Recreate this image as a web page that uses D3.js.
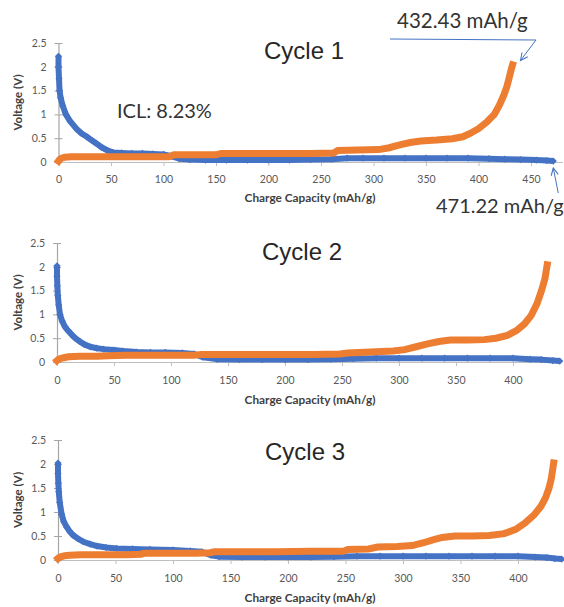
<!DOCTYPE html>
<html><head><meta charset="utf-8">
<script src="https://cdnjs.cloudflare.com/ajax/libs/d3/7.8.5/d3.min.js"></script>
<style>
html,body{margin:0;padding:0;background:#fff;}
svg{display:block;}
</style></head>
<body>
<script>
// ---------------- DATA ----------------
const cycleTitles = ["Cycle 1", "Cycle 2", "Cycle 3"];
const xAxisTitle = "Charge Capacity (mAh/g)";
const yAxisTitle = "Voltage (V)";
const yTicks = [0, 0.5, 1, 1.5, 2, 2.5];
const xTicksCycle1 = [0, 50, 100, 150, 200, 250, 300, 350, 400, 450];
const xTicksCycle23 = [0, 50, 100, 150, 200, 250, 300, 350, 400];
const xAxisMax = [480, 442, 440];
const yAxisMax = 2.5;
const iclLabel = "ICL: 8.23%";
const chargeEndLabel = "432.43 mAh/g";
const dischargeEndLabel = "471.22 mAh/g";
const chargeEndCapacity = 432.43;
const dischargeEndCapacity = 471.22;

// [capacity mAh/g, voltage V]
const cycle1Discharge = [[0,2.22],[0,2.0],[0.5,1.75],[1,1.5],[2,1.35],[4,1.18],[7,1.0],[11,0.86],[17,0.7],[22,0.6],[27,0.53],[32,0.45],[36,0.39],[41,0.31],[46,0.25],[52,0.2],[60,0.19],[70,0.18],[80,0.18],[90,0.17],[100,0.16],[108,0.12],[115,0.07],[125,0.05],[140,0.04],[160,0.04],[180,0.04],[200,0.04],[220,0.04],[240,0.05],[260,0.06],[275,0.08],[290,0.08],[310,0.08],[330,0.08],[350,0.08],[370,0.08],[390,0.08],[410,0.07],[425,0.06],[440,0.05],[455,0.04],[465,0.03],[471.22,0.02]];
const cycle1Charge = [[0,0.02],[1,0.05],[3,0.08],[6,0.1],[12,0.11],[20,0.11],[50,0.11],[80,0.11],[105,0.11],[110,0.15],[130,0.15],[150,0.15],[155,0.18],[180,0.18],[210,0.18],[240,0.18],[262,0.19],[266,0.24],[285,0.25],[305,0.26],[315,0.3],[325,0.36],[335,0.41],[345,0.44],[360,0.46],[375,0.49],[385,0.53],[392,0.6],[400,0.7],[408,0.84],[415,1.0],[420,1.2],[424,1.4],[427,1.58],[429,1.75],[431,1.93],[432.43,2.04]];

const cycle2Discharge = [[0,2.02],[0,1.8],[0.3,1.6],[0.7,1.4],[1.5,1.2],[2.6,1.0],[4.5,0.86],[7,0.74],[10,0.65],[13,0.57],[16,0.5],[20,0.43],[24,0.37],[29,0.32],[35,0.29],[41,0.27],[50,0.25],[58,0.23],[70,0.21],[82,0.2],[95,0.2],[110,0.19],[120,0.17],[128,0.1],[140,0.06],[160,0.05],[180,0.05],[200,0.05],[220,0.05],[240,0.06],[260,0.07],[280,0.08],[300,0.08],[320,0.08],[340,0.08],[360,0.08],[380,0.08],[400,0.08],[415,0.06],[425,0.05],[435,0.03],[441,0.02]];
const cycle2Charge = [[0,0.03],[1,0.05],[3,0.07],[6,0.09],[10,0.11],[20,0.12],[35,0.12],[45,0.13],[60,0.14],[80,0.14],[100,0.14],[120,0.14],[127,0.16],[150,0.16],[175,0.16],[200,0.16],[225,0.16],[248,0.17],[255,0.19],[275,0.21],[295,0.23],[305,0.26],[315,0.32],[325,0.38],[335,0.43],[345,0.46],[360,0.46],[375,0.47],[385,0.5],[395,0.56],[403,0.66],[410,0.8],[416,0.98],[421,1.22],[425,1.5],[428,1.75],[430,2.04]];

const cycle3Discharge = [[0,2.02],[0,1.8],[0.3,1.6],[0.7,1.42],[1.5,1.2],[3.2,0.95],[5,0.8],[7.5,0.69],[10,0.6],[13,0.52],[17,0.45],[22,0.38],[28,0.33],[34,0.29],[42,0.26],[51,0.24],[65,0.23],[80,0.22],[100,0.21],[115,0.19],[125,0.17],[133,0.1],[140,0.07],[160,0.06],[180,0.06],[200,0.06],[220,0.06],[240,0.07],[260,0.08],[280,0.08],[300,0.08],[320,0.08],[340,0.08],[360,0.08],[380,0.08],[400,0.08],[415,0.06],[425,0.05],[432,0.03],[438,0.02]];
const cycle3Charge = [[0,0.03],[1,0.05],[3,0.07],[6,0.09],[10,0.1],[20,0.11],[40,0.11],[60,0.11],[72,0.12],[75,0.14],[100,0.14],[120,0.14],[132,0.15],[136,0.17],[160,0.17],[190,0.17],[220,0.18],[248,0.18],[252,0.22],[270,0.23],[278,0.27],[295,0.28],[308,0.3],[318,0.36],[326,0.42],[334,0.47],[345,0.5],[360,0.5],[375,0.51],[388,0.55],[398,0.64],[406,0.77],[414,0.94],[420,1.12],[424,1.3],[427,1.5],[429,1.7],[431,2.02]];

// ---------------- LAYOUT ----------------
const W = 564, H = 607;
const BLUE = "#4472C4", ORANGE = "#ED7D31";
const panels = [
  {title: cycleTitles[0], dis: cycle1Discharge, chg: cycle1Charge, xMax: xAxisMax[0], xTicks: xTicksCycle1,
   left: 58.5, pxPerUnit: 1.05, top: 43, bottom: 162, titleX: 304, titleY: 59, tickY: 179, axTitleY: 202},
  {title: cycleTitles[1], dis: cycle2Discharge, chg: cycle2Charge, xMax: xAxisMax[1], xTicks: xTicksCycle23,
   left: 57, pxPerUnit: 1.14, top: 243, bottom: 362, titleX: 302, titleY: 260, tickY: 380, axTitleY: 404},
  {title: cycleTitles[2], dis: cycle3Discharge, chg: cycle3Charge, xMax: xAxisMax[2], xTicks: xTicksCycle23,
   left: 58, pxPerUnit: 1.15, top: 440, bottom: 560, titleX: 305, titleY: 460, tickY: 578, axTitleY: 602}
];

const svg = d3.select("body").append("svg").attr("width", W).attr("height", H);
const tickFont = "Lato, 'Open Sans', sans-serif";

panels.forEach((p, i) => {
  const x = d3.scaleLinear().domain([0, p.xMax]).range([p.left, p.left + p.xMax * p.pxPerUnit]);
  const y = d3.scaleLinear().domain([0, yAxisMax]).range([p.bottom, p.top]);
  p.x = x; p.y = y;
  const g = svg.append("g");

  // x axis
  const xa = g.append("g").attr("transform", `translate(0,${p.bottom})`)
    .call(d3.axisBottom(x).tickValues(p.xTicks).tickSize(4).tickSizeOuter(0).tickPadding(6).tickFormat(d3.format("d")));
  xa.select(".domain").attr("stroke", "#BFBFBF").attr("stroke-width", 1);
  xa.selectAll(".tick line").attr("stroke", "#BFBFBF");
  xa.selectAll(".tick text").attr("fill", "#595959").attr("font-family", tickFont).attr("font-size", 10.5)
    .attr("y", p.tickY - p.bottom).attr("dy", "0.35em");

  // y axis
  const ya = g.append("g").attr("transform", `translate(${x(0)},0)`)
    .call(d3.axisLeft(y).tickValues(yTicks).tickSize(4).tickSizeOuter(0).tickPadding(8).tickFormat(d => String(d)));
  ya.select(".domain").attr("stroke", "#A6A6A6").attr("stroke-width", 1.2);
  ya.selectAll(".tick line").attr("stroke", "#A6A6A6").attr("x1", 4).attr("x2", -4);
  ya.selectAll(".tick text").attr("fill", "#595959").attr("font-family", tickFont).attr("font-size", 10.5);

  // axis titles
  g.append("text").attr("x", 310).attr("y", p.axTitleY).attr("text-anchor", "middle")
    .attr("font-family", tickFont).attr("font-weight", "bold").attr("font-size", 11.8).attr("fill", "#404040")
    .text(xAxisTitle);
  g.append("text").attr("transform", `translate(22,${(p.top + p.bottom) / 2}) rotate(-90)`)
    .attr("text-anchor", "middle").attr("font-family", tickFont).attr("font-weight", "bold")
    .attr("font-size", 11.5).attr("fill", "#404040").text(yAxisTitle);

  // title
  g.append("text").attr("x", p.titleX).attr("y", p.titleY).attr("text-anchor", "middle")
    .attr("font-family", "Liberation Sans, Arial, sans-serif").attr("font-size", 24).attr("fill", "#262626")
    .text(p.title);

  const line = d3.line().x(d => x(d[0])).y(d => y(d[1]));
  const diamond = d3.symbol().type(d3.symbolSquare).size(26);

  // discharge (blue)
  g.append("path").datum(p.dis).attr("d", line).attr("fill", "none").attr("stroke", BLUE)
    .attr("stroke-width", 6).attr("stroke-linejoin", "round");
  g.selectAll(".dm").data(p.dis).join("path").attr("class", "dm")
    .attr("transform", d => `translate(${x(d[0])},${y(d[1])}) rotate(45)`).attr("d", diamond).attr("fill", BLUE);

  // charge (orange)
  g.append("path").datum(p.chg).attr("d", line).attr("fill", "none").attr("stroke", ORANGE)
    .attr("stroke-width", 7).attr("stroke-linejoin", "miter").attr("stroke-linecap", "square");
});

// ---------------- ANNOTATIONS ----------------
const p1 = panels[0];
const annFont = "Lato, 'Open Sans', sans-serif";
svg.append("text").attr("x", 117).attr("y", 118).attr("font-family", annFont).attr("font-size", 20)
  .attr("fill", "#333").text(iclLabel);
svg.append("text").attr("x", 397).attr("y", 28).attr("font-family", annFont).attr("font-size", 20.5)
  .attr("fill", "#333").text(chargeEndLabel);
svg.append("text").attr("x", 436).attr("y", 213).attr("font-family", annFont).attr("font-size", 20)
  .attr("fill", "#333").text(dischargeEndLabel);

const defs = svg.append("defs");
defs.append("marker").attr("id", "arr").attr("viewBox", "0 0 10 10").attr("refX", 9).attr("refY", 5)
  .attr("markerWidth", 9).attr("markerHeight", 9).attr("orient", "auto-start-reverse")
  .append("path").attr("d", "M1,1 L9,5 L1,9").attr("fill", "none").attr("stroke", BLUE).attr("stroke-width", 1.2);

const tip1 = [p1.x(chargeEndCapacity) + 8, p1.y(2.05) - 4];
svg.append("polyline").attr("points", `390,39 536,40 ${tip1[0]},${tip1[1]}`)
  .attr("fill", "none").attr("stroke", BLUE).attr("stroke-width", 1).attr("marker-end", "url(#arr)");
const tip2 = [p1.x(dischargeEndCapacity), p1.y(0) + 6];
svg.append("line").attr("x1", tip2[0] + 5).attr("y1", 193).attr("x2", tip2[0]).attr("y2", tip2[1])
  .attr("stroke", BLUE).attr("stroke-width", 1).attr("marker-end", "url(#arr)");
</script>
</body></html>
